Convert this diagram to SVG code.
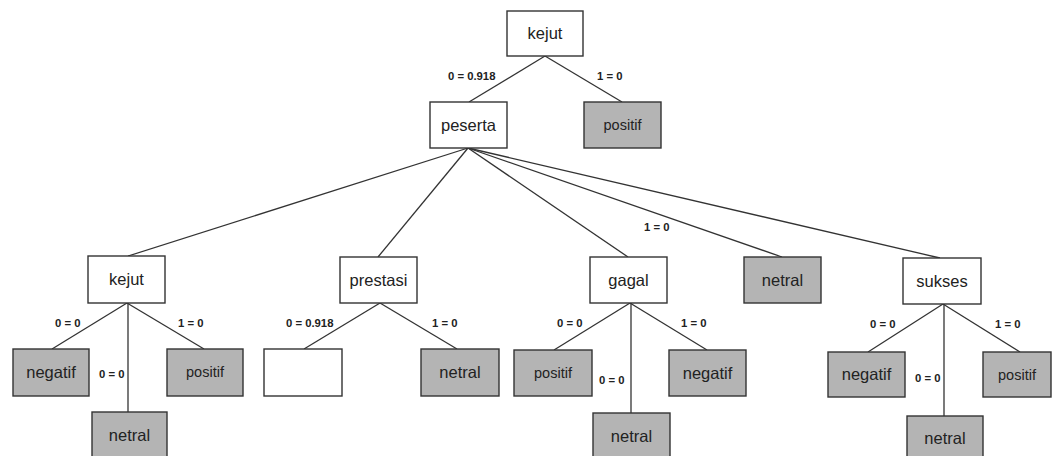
<svg xmlns="http://www.w3.org/2000/svg" width="1053" height="456" viewBox="0 0 1053 456">
  <style>
    .box { fill: #ffffff; stroke: #333333; stroke-width: 1.4; }
    .leaf { fill: #b4b4b4; stroke: #333333; stroke-width: 1.4; }
    .name { font-family: "Liberation Sans", Arial, sans-serif; font-size: 16.5px; fill: #222222; text-anchor: middle; }
    .small { font-size: 14.5px; }
    .edge { stroke: #333333; stroke-width: 1.3; fill: none; }
    .lbl { font-family: "Liberation Sans", Arial, sans-serif; font-size: 11.3px; font-weight: bold; fill: #222222; }
  </style>
  <rect width="1053" height="456" fill="#ffffff"/>

  <g id="connectors">
    <line class="edge" x1="545" y1="56" x2="469" y2="102"/>
    <line class="edge" x1="545" y1="56" x2="622" y2="102"/>
    <line class="edge" x1="468" y1="148" x2="128" y2="256"/>
    <line class="edge" x1="468" y1="148" x2="378" y2="257"/>
    <line class="edge" x1="468" y1="148" x2="628" y2="257"/>
    <line class="edge" x1="468" y1="148" x2="782" y2="257"/>
    <line class="edge" x1="468" y1="148" x2="940" y2="258"/>
    <line class="edge" x1="127" y1="303" x2="52" y2="349"/>
    <line class="edge" x1="127" y1="303" x2="204" y2="349"/>
    <line class="edge" x1="128" y1="303" x2="128" y2="412"/>
    <line class="edge" x1="380" y1="303" x2="304" y2="349"/>
    <line class="edge" x1="380" y1="303" x2="457" y2="349"/>
    <line class="edge" x1="630" y1="303" x2="554" y2="350"/>
    <line class="edge" x1="630" y1="303" x2="707" y2="350"/>
    <line class="edge" x1="631" y1="303" x2="631" y2="413"/>
    <line class="edge" x1="943" y1="304" x2="868" y2="352"/>
    <line class="edge" x1="943" y1="304" x2="1020" y2="352"/>
    <line class="edge" x1="944" y1="304" x2="944" y2="416"/>
  </g>

  <g id="edge-labels">
    <text class="lbl" x="448" y="80">0 = 0.918</text>
    <text class="lbl" x="597" y="80">1 = 0</text>
    <text class="lbl" x="644" y="231">1 = 0</text>
    <text class="lbl" x="55" y="327">0 = 0</text>
    <text class="lbl" x="178" y="327">1 = 0</text>
    <text class="lbl" x="99" y="378">0 = 0</text>
    <text class="lbl" x="286" y="327">0 = 0.918</text>
    <text class="lbl" x="432" y="327">1 = 0</text>
    <text class="lbl" x="557" y="327">0 = 0</text>
    <text class="lbl" x="681" y="327">1 = 0</text>
    <text class="lbl" x="599" y="384">0 = 0</text>
    <text class="lbl" x="870" y="328">0 = 0</text>
    <text class="lbl" x="995" y="328">1 = 0</text>
    <text class="lbl" x="915" y="382">0 = 0</text>
  </g>

  <g id="node-kejut-root">
    <rect class="box" x="507" y="11" width="76" height="45"/>
    <text class="name" x="545" y="39">kejut</text>
  </g>
  <g id="node-peserta">
    <rect class="box" x="430" y="102" width="77" height="46"/>
    <text class="name" x="468.5" y="130.5">peserta</text>
  </g>
  <g id="node-positif-root">
    <rect class="leaf" x="584" y="102" width="77" height="46"/>
    <text class="name small" x="622.5" y="130">positif</text>
  </g>

  <g id="node-kejut">
    <rect class="box" x="88" y="256" width="77" height="47"/>
    <text class="name" x="126.5" y="285">kejut</text>
  </g>
  <g id="node-prestasi">
    <rect class="box" x="340" y="257" width="77" height="46"/>
    <text class="name" x="378.5" y="285.5">prestasi</text>
  </g>
  <g id="node-gagal">
    <rect class="box" x="590" y="257" width="77" height="46"/>
    <text class="name" x="628.5" y="285.5">gagal</text>
  </g>
  <g id="node-netral-peserta">
    <rect class="leaf" x="744" y="257" width="77" height="46"/>
    <text class="name" x="782.5" y="285.5">netral</text>
  </g>
  <g id="node-sukses">
    <rect class="box" x="903" y="258" width="78" height="46"/>
    <text class="name" x="942" y="286.5">sukses</text>
  </g>

  <g id="node-kejut-negatif">
    <rect class="leaf" x="13" y="349" width="76" height="47"/>
    <text class="name" x="51" y="378">negatif</text>
  </g>
  <g id="node-kejut-positif">
    <rect class="leaf" x="167" y="349" width="76" height="47"/>
    <text class="name small" x="205" y="377">positif</text>
  </g>
  <g id="node-kejut-netral">
    <rect class="leaf" x="92" y="412" width="75" height="47"/>
    <text class="name" x="129.5" y="440.5">netral</text>
  </g>

  <g id="node-prestasi-empty">
    <rect class="box" x="264" y="349" width="78" height="47"/>
  </g>
  <g id="node-prestasi-netral">
    <rect class="leaf" x="421" y="349" width="78" height="47"/>
    <text class="name" x="460" y="378">netral</text>
  </g>

  <g id="node-gagal-positif">
    <rect class="leaf" x="514" y="350" width="78" height="46"/>
    <text class="name small" x="553" y="378">positif</text>
  </g>
  <g id="node-gagal-negatif">
    <rect class="leaf" x="669" y="350" width="77" height="46"/>
    <text class="name" x="707.5" y="378.5">negatif</text>
  </g>
  <g id="node-gagal-netral">
    <rect class="leaf" x="593" y="413" width="77" height="46"/>
    <text class="name" x="631.5" y="441.5">netral</text>
  </g>

  <g id="node-sukses-negatif">
    <rect class="leaf" x="828" y="352" width="77" height="45"/>
    <text class="name" x="866.5" y="380">negatif</text>
  </g>
  <g id="node-sukses-positif">
    <rect class="leaf" x="983" y="352" width="68" height="45"/>
    <text class="name small" x="1017" y="379.5">positif</text>
  </g>
  <g id="node-sukses-netral">
    <rect class="leaf" x="907" y="416" width="76" height="43"/>
    <text class="name" x="945" y="443.5">netral</text>
  </g>
</svg>
